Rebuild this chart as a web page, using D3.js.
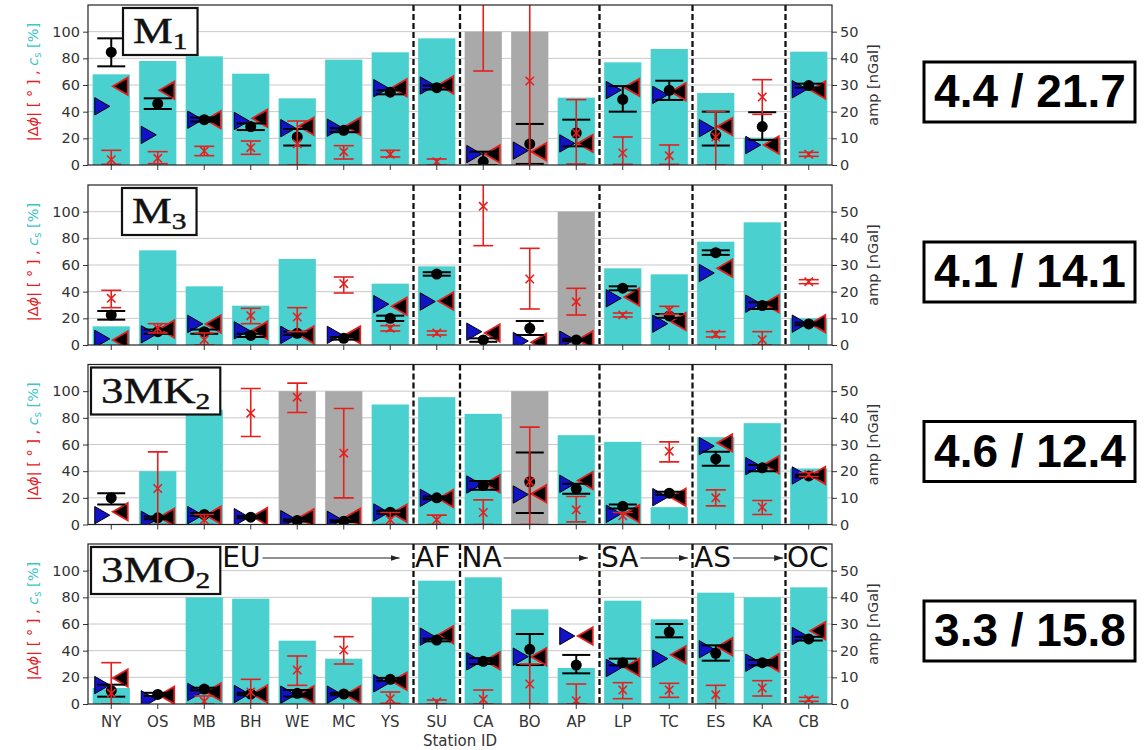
<!DOCTYPE html>
<html>
<head>
<meta charset="utf-8">
<script src="https://cdn.jsdelivr.net/npm/d3@7"></script>
<style>
  body { margin: 0; background: #fff; }
  svg { display: block; }
</style>
</head>
<body>
<div class="chart"></div>
<script>
// Stations and continent groups
const stations = ["NY", "OS", "MB", "BH", "WE", "MC", "YS", "SU", "CA", "BO", "AP", "LP", "TC", "ES", "KA", "CB"]
const regionNames = ["EU", "AF", "NA", "SA", "AS", "OC"]
const regionSizes = [7, 1, 3, 2, 2, 1]
// arrow tip of each region label, in station index units (null = no arrow)
const regionArrowEnd = [6.2, null, 10.25, 12.4, 14.45, null]

const titleBase = ["M", "M", "3MK", "3MO"]
const titleSub = ["1", "3", "2", "2"]
const scoreLabels = ["4.4 / 21.7", "4.1 / 14.1", "4.6 / 12.4", "3.3 / 15.8"]

// M1
const m1Cs = [68, 78, 81.5, 68.5, 50, 79, 84.5, 95, 100, 100, 50.5, 77, 87, 54, 20.5, 85]
const m1Masked = [0, 0, 0, 0, 0, 0, 0, 0, 1, 1, 0, 0, 0, 0, 0, 0]
const m1Amp = [42.3, 23, 17, 14.4, 10.5, 13, 27.3, 29, 1.3, 7.9, 12, 24.6, 28, 11.3, 14.4, 29.8]
const m1AmpLo = [37, 21, 16.3, 13.1, 7.3, 12.3, 26.5, 28.3, 0, 0.4, 7, 20, 24.4, 7.3, 9.4, 29]
const m1AmpHi = [47.5, 25, 17.8, 15.6, 13.5, 13.8, 28, 29.8, 5, 15.4, 17, 29.6, 31.6, 20, 19.8, 30.5]
const m1TriL = [22, 11.3, 17, 16.5, 13.8, 14, 28.8, 29.8, 4.1, 5.4, 8.1, 28.1, 26.3, 13.8, 7.5, 28.4]
const m1TriR = [29.5, 28, 17, 17.5, 14.5, 14.5, 29, 30, 4.1, 5, 8.1, 29.1, 27.5, 14.4, 7.5, 28.1]
const m1Phase = [4, 5, 10.5, 13, 16, 10, 8, 2.5, 135, 63, 24, 9, 7, 21, 51, 8]
const m1PhaseLo = [0.5, 1, 7, 8, 0, 4.5, 6, 0, 70.5, 0, 0.75, 0.5, 0.5, 0, 38, 6.5]
const m1PhaseHi = [11, 10, 14, 18, 33, 14.5, 11, 4.5, 200, 130, 49, 21, 15, 40, 64, 9.5]

// M3
const m3Cs = [14, 71, 44, 29.5, 64.5, 0, 46, 59, 0, 0, 100, 57.5, 53, 77.5, 92, 20]
const m3Masked = [0, 0, 0, 0, 0, 0, 0, 0, 0, 0, 1, 0, 0, 0, 0, 0]
const m3Amp = [11.25, 5, 5, 3.6, 4.4, 2.5, 10, 26.6, 1.9, 6.25, 1.9, 21.3, 10.9, 34.6, 14.8, 7.9]
const m3AmpLo = [9.5, 4.2, 4.2, 3, 3.8, 2, 9, 26, 1.2, 3.75, 1.5, 20.5, 10.2, 33.8, 13.5, 7.4]
const m3AmpHi = [12.75, 5.8, 5.8, 4.2, 5, 3, 11, 27.3, 2.5, 9, 2.3, 22, 11.6, 35.5, 16, 8.4]
const m3TriL = [2.3, 4, 7.9, 5.5, 3.8, 3.8, 15.3, 16.3, 5, 1.5, 2, 17.5, 8, 27, 15.5, 8]
const m3TriR = [1.9, 6, 7.9, 5.5, 3.8, 3.8, 14.5, 16.5, 4.5, 1, 2, 18, 8.8, 28.8, 15.5, 8]
const m3Phase = [35, 12.5, 4, 22, 21, 46, 12.5, 9, 104, 49.5, 32.5, 22.5, 26, 8, 4, 47.5]
const m3PhaseLo = [28, 9, 0, 16, 10, 39, 10.5, 7.5, 74.5, 27, 22.5, 21, 23, 6, 0, 46]
const m3PhaseHi = [41, 16, 9, 27.5, 28, 51, 14.5, 10.5, 140, 72.5, 42.5, 24, 29, 10, 10, 49]

// 3MK2
const mk3Cs = [0, 40, 86, 0, 100, 100, 90, 95.5, 83, 100, 67, 62, 13, 65.5, 76, 42]
const mk3Masked = [0, 0, 0, 0, 1, 1, 0, 0, 0, 1, 0, 0, 0, 0, 0, 0]
const mk3Amp = [10, 2.5, 3.75, 2.75, 1.5, 1.25, 4.6, 10, 14.6, 16, 13.4, 6.8, 11.75, 24.6, 21.25, 18.2]
const mk3AmpLo = [7.5, 2, 3.2, 2.3, 1.1, 0.9, 4, 9.5, 13, 4.3, 11.5, 6, 11.2, 22, 20, 17.7]
const mk3AmpHi = [11.75, 3, 4.3, 3.2, 1.9, 1.6, 5.2, 10.5, 16.3, 27, 15.3, 7.5, 12.3, 27.3, 22.3, 18.7]
const mk3TriL = [3.5, 1.75, 3.5, 2.75, 2, 1.75, 4.5, 10, 15, 11.25, 15.25, 4, 10.25, 29.4, 21.9, 18.4]
const mk3TriR = [4.75, 2.75, 3.5, 3, 2.5, 2.75, 4.25, 9.75, 15.25, 11.5, 16.5, 4, 10.25, 30.6, 22.4, 18.4]
const mk3Phase = [null, 27, 3.5, 83.5, 95.5, 53.5, 3.5, 3.5, 9, 32, 11, 6.5, 55, 20, 13, 37.5]
const mk3PhaseLo = [null, 0, 0, 66, 84, 20, 0, 0, 0, 0, 2, 0, 47, 14, 7.5, 36]
const mk3PhaseHi = [null, 54.5, 7.5, 102, 106, 87, 9, 7, 18.5, 73, 21, 9, 62, 26, 18, 39]

// 3MO2
const mo3Cs = [12, 0, 80, 79, 47.5, 34, 80, 92.5, 95, 71, 27, 77.5, 63.5, 83.5, 80, 87.5]
const mo3Masked = [0, 0, 0, 0, 0, 0, 0, 0, 0, 0, 0, 0, 0, 0, 0, 0]
const mo3Amp = [5, 3.6, 5.6, 3.75, 4, 3.75, 9.25, 24, 16, 20.5, 14.6, 15.5, 27, 19, 15.5, 24.4]
const mo3AmpLo = [2.75, 3, 5.1, 3.3, 2.8, 3.3, 8.7, 23.5, 15, 14.6, 11.5, 14.5, 25, 16.25, 14.5, 23.8]
const mo3AmpHi = [7.25, 4.2, 6.1, 4.2, 5.25, 4.2, 9.8, 24.5, 17.2, 26.25, 18.4, 17, 30, 22, 16.5, 25.2]
const mo3TriL = [7.1, 1.75, 4.5, 3.75, 3.5, 3.5, 7.75, 25.25, 16, 17.75, 25.5, 13.5, 17, 20.5, 15.5, 25.5]
const mo3TriR = [9.75, 3.3, 4.5, 3.75, 3.5, 3.5, 8.5, 26, 16.25, 17.75, 25.5, 13.75, 18.5, 21.5, 15.5, 27.5]
const mo3Phase = [8, null, 2, 9, 25.5, 40.5, 4, 1.5, 3.5, 15, 2.5, 10.5, 10.5, 7, 12, 3.5]
const mo3PhaseLo = [0, null, 0, 0, 14, 30, 0.5, 0, 0, 0, 0, 4, 5, 0, 6, 2]
const mo3PhaseHi = [31, null, 6, 18.5, 36, 50.5, 9, 3, 10.5, 30, 15, 16, 15.5, 14, 17.5, 5]

const panels = [
    [m1Cs, m1Masked, m1Amp, m1AmpLo, m1AmpHi, m1TriL, m1TriR, m1Phase, m1PhaseLo, m1PhaseHi],
    [m3Cs, m3Masked, m3Amp, m3AmpLo, m3AmpHi, m3TriL, m3TriR, m3Phase, m3PhaseLo, m3PhaseHi],
    [mk3Cs, mk3Masked, mk3Amp, mk3AmpLo, mk3AmpHi, mk3TriL, mk3TriR, mk3Phase, mk3PhaseLo, mk3PhaseHi],
    [mo3Cs, mo3Masked, mo3Amp, mo3AmpLo, mo3AmpHi, mo3TriL, mo3TriR, mo3Phase, mo3PhaseLo, mo3PhaseHi]
].map(cols => stations.map((s, j) => ({
    station: s,
    cs: cols[0][j], masked: cols[1][j],
    amp: cols[2][j], ampLo: cols[3][j], ampHi: cols[4][j],
    triL: cols[5][j], triR: cols[6][j],
    phase: cols[7][j], phaseLo: cols[8][j], phaseHi: cols[9][j]
})))

// Layout
const width = 1144
const height = 750
const plotLeft = 88
const plotRight = 832
const panelHeight = 160
const panelTops = [5, 185, 364.5, 544]
const titleTextX = [133, 132, 101, 101]

const cyan = "#4bd0d0"
const grey = "#a9a9a9"
const red = "#e3201e"
const textColor = "#333"

const svg = d3.select(".chart").append("svg")
    .attr("width", width)
    .attr("height", height)
    .attr("viewBox", [0, 0, width, height])
    .style("font-family", "'DejaVu Sans', sans-serif")

const defs = svg.append("defs")
defs.append("marker")
    .attr("id", "arrow")
    .attr("markerUnits", "userSpaceOnUse")
    .attr("markerWidth", 9).attr("markerHeight", 6)
    .attr("refX", 9).attr("refY", 3)
    .attr("orient", "auto")
    .append("path")
    .attr("d", "M0,0L9,3L0,6Z")
    .attr("fill", "#222")

const x = d3.scaleBand(stations, [plotLeft, plotRight]).paddingInner(0.2).paddingOuter(0.1)
const step = x.step()
const cx = s => x(s) + x.bandwidth() / 2
const xIndex = i => cx(stations[0]) + i * step

// boundaries between continent groups
const boundaryIdx = d3.cumsum(regionSizes).slice(0, -1)
const boundaryX = k => x(stations[k]) - (step - x.bandwidth()) / 2

const triSym = d3.symbol(d3.symbolTriangle, 130)
const xSym = d3.symbol(d3.symbolX, 48)

panels.forEach((rows, i) => {
    const top = panelTops[i]
    const bottom = top + panelHeight
    const yL = d3.scaleLinear([0, 120], [bottom, top])
    const yR = d3.scaleLinear([0, 60], [bottom, top])
    const g = svg.append("g")

    defs.append("clipPath").attr("id", `clip-${i}`)
        .append("rect")
        .attr("x", plotLeft).attr("y", top)
        .attr("width", plotRight - plotLeft).attr("height", panelHeight)

    // grid
    g.append("g")
        .selectAll("line")
        .data([20, 40, 60, 80, 100])
        .join("line")
        .attr("x1", plotLeft).attr("x2", plotRight)
        .attr("y1", d => yL(d)).attr("y2", d => yL(d))
        .attr("stroke", "#c8c8c8")
        .attr("stroke-width", 1)

    const plot = g.append("g").attr("clip-path", `url(#clip-${i})`)

    // c_s bars
    plot.append("g")
        .selectAll("rect")
        .data(rows.filter(d => d.cs > 0))
        .join("rect")
        .attr("x", d => x(d.station))
        .attr("width", x.bandwidth())
        .attr("y", d => yL(d.cs))
        .attr("height", d => yL(0) - yL(d.cs))
        .attr("fill", d => d.masked ? grey : cyan)

    // continent separators
    plot.append("g")
        .selectAll("line")
        .data(boundaryIdx)
        .join("line")
        .attr("x1", boundaryX).attr("x2", boundaryX)
        .attr("y1", top).attr("y2", bottom)
        .attr("stroke", "#111")
        .attr("stroke-width", 2.3)
        .attr("stroke-dasharray", "6,3")

    // model amplitudes as bow-tie triangles
    plot.append("g")
        .selectAll("path")
        .data(rows)
        .join("path")
        .attr("d", triSym)
        .attr("transform", d => `translate(${cx(d.station) - 11.5},${yR(d.triL)}) rotate(90)`)
        .attr("fill", "#1212c8")
        .attr("stroke", "#000")
        .attr("stroke-width", 1)
    plot.append("g")
        .selectAll("path")
        .data(rows)
        .join("path")
        .attr("d", triSym)
        .attr("transform", d => `translate(${cx(d.station) + 11.5},${yR(d.triR)}) rotate(-90)`)
        .attr("fill", "#000")
        .attr("stroke", red)
        .attr("stroke-width", 1.8)

    // observed amplitude with error bars
    const obs = plot.append("g").attr("stroke", "#000").attr("stroke-width", 2)
    obs.selectAll(".v").data(rows).join("line")
        .attr("x1", d => cx(d.station)).attr("x2", d => cx(d.station))
        .attr("y1", d => yR(d.ampLo)).attr("y2", d => yR(d.ampHi))
    obs.selectAll(".lo").data(rows).join("line")
        .attr("x1", d => cx(d.station) - 14).attr("x2", d => cx(d.station) + 14)
        .attr("y1", d => yR(d.ampLo)).attr("y2", d => yR(d.ampLo))
    obs.selectAll(".hi").data(rows).join("line")
        .attr("x1", d => cx(d.station) - 14).attr("x2", d => cx(d.station) + 14)
        .attr("y1", d => yR(d.ampHi)).attr("y2", d => yR(d.ampHi))
    plot.append("g")
        .selectAll("circle")
        .data(rows)
        .join("circle")
        .attr("cx", d => cx(d.station))
        .attr("cy", d => yR(d.amp))
        .attr("r", 5.5)
        .attr("fill", "#000")

    // phase difference with error bars
    const ph = rows.filter(d => d.phase != null)
    const phg = plot.append("g").attr("stroke", red).attr("stroke-width", 1.6).attr("fill", "none")
    phg.selectAll(".v").data(ph).join("line")
        .attr("x1", d => cx(d.station)).attr("x2", d => cx(d.station))
        .attr("y1", d => yL(d.phaseLo)).attr("y2", d => yL(d.phaseHi))
    phg.selectAll(".lo").data(ph).join("line")
        .attr("x1", d => cx(d.station) - 10).attr("x2", d => cx(d.station) + 10)
        .attr("y1", d => yL(d.phaseLo)).attr("y2", d => yL(d.phaseLo))
    phg.selectAll(".hi").data(ph).join("line")
        .attr("x1", d => cx(d.station) - 10).attr("x2", d => cx(d.station) + 10)
        .attr("y1", d => yL(d.phaseHi)).attr("y2", d => yL(d.phaseHi))
    phg.selectAll("path").data(ph).join("path")
        .attr("d", xSym)
        .attr("transform", d => `translate(${cx(d.station)},${yL(d.phase)})`)

    // axes
    const styleAxis = sel => {
        sel.select(".domain").remove()
        sel.selectAll(".tick line").attr("stroke", textColor)
        sel.selectAll(".tick text").attr("fill", textColor)
            .style("font-family", "'DejaVu Sans', sans-serif")
    }
    g.append("g")
        .attr("transform", `translate(${plotLeft},0)`)
        .call(d3.axisLeft(yL).tickValues([0, 20, 40, 60, 80, 100]).tickSize(5).tickPadding(3))
        .call(styleAxis)
        .selectAll(".tick text").style("font-size", "14.5px")
    g.append("g")
        .attr("transform", `translate(${plotRight},0)`)
        .call(d3.axisRight(yR).tickValues([0, 10, 20, 30, 40, 50]).tickSize(5).tickPadding(3))
        .call(styleAxis)
        .selectAll(".tick text").style("font-size", "14.5px")
    const xAxis = d3.axisBottom(x).tickSize(5).tickPadding(7)
    if (i < panels.length - 1) xAxis.tickFormat("")
    g.append("g")
        .attr("transform", `translate(0,${bottom})`)
        .call(xAxis)
        .call(styleAxis)
        .selectAll(".tick text").style("font-size", "15px")

    // frame
    g.append("rect")
        .attr("x", plotLeft).attr("y", top)
        .attr("width", plotRight - plotLeft).attr("height", panelHeight)
        .attr("fill", "none")
        .attr("stroke", "#222")
        .attr("stroke-width", 1.2)

    // left label
    const mid = (top + bottom) / 2
    const yl = g.append("text")
        .attr("transform", `translate(38,${mid - 3}) rotate(-90)`)
        .attr("text-anchor", "middle")
        .style("font-size", "14.5px")
    yl.append("tspan").attr("fill", red).text("|Δ")
    yl.append("tspan").attr("fill", red).style("font-style", "italic").text("ϕ")
    yl.append("tspan").attr("fill", red).text("| [ ° ] , ")
    yl.append("tspan").attr("fill", "#3cc6c8").style("font-style", "italic").text("c")
    yl.append("tspan").attr("fill", "#3cc6c8").attr("dy", 3).style("font-size", "10px").text("s")
    yl.append("tspan").attr("fill", "#3cc6c8").attr("dy", -3).text(" [%]")

    // right label
    g.append("text")
        .attr("transform", `translate(878,${mid}) rotate(-90)`)
        .attr("text-anchor", "middle")
        .attr("fill", textColor)
        .style("font-size", "14.5px")
        .text("amp [nGal]")

    // constituent title box
    const tg = g.append("g")
    const tText = tg.append("text")
        .attr("transform", `translate(${titleTextX[i]},${top + 38}) scale(1.28,1)`)
        .style("font-family", "'Liberation Serif', 'DejaVu Serif', serif")
        .style("font-size", "35px")
        .attr("fill", "#111")
        .attr("stroke", "#111")
        .attr("stroke-width", 0.4)
    tText.append("tspan").text(titleBase[i])
    tText.append("tspan").attr("dy", 6).style("font-size", "23px").text(titleSub[i])
    const bb = tText.node().getBBox()
    tg.insert("rect", "text")
        .attr("x", titleTextX[i] + bb.x * 1.28 - 10)
        .attr("y", top + 3)
        .attr("width", bb.width * 1.28 + 20)
        .attr("height", 47)
        .attr("fill", "#fff")
        .attr("stroke", "#111")
        .attr("stroke-width", 2.2)

    // score box on the right
    const sc = mid + 7
    g.append("rect")
        .attr("x", 924).attr("y", sc - 30)
        .attr("width", 211).attr("height", 60)
        .attr("fill", "#fff")
        .attr("stroke", "#000")
        .attr("stroke-width", 3)
    g.append("text")
        .attr("x", 1030).attr("y", sc + 15)
        .attr("text-anchor", "middle")
        .style("font-family", "'Liberation Sans', Arial, sans-serif")
        .style("font-weight", "bold")
        .style("font-size", "46px")
        .attr("fill", "#000")
        .text(scoreLabels[i])

    // continent labels in the last panel
    if (i === panels.length - 1) {
        const starts = [0, ...boundaryIdx]
        const titleRight = titleTextX[i] + (bb.x + bb.width) * 1.28 + 10
        regionNames.forEach((name, r) => {
            const lx = r === 0 ? titleRight + 2 : boundaryX(starts[r]) + 1.5
            const t = g.append("text")
                .attr("x", lx).attr("y", top + 23)
                .attr("fill", "#111")
                .style("font-size", "28px")
                .text(name)
            if (regionArrowEnd[r] != null) {
                const x0 = lx + t.node().getComputedTextLength() + 2
                g.append("line")
                    .attr("x1", x0).attr("x2", xIndex(regionArrowEnd[r]))
                    .attr("y1", top + 14).attr("y2", top + 14)
                    .attr("stroke", "#222")
                    .attr("stroke-width", 1.1)
                    .attr("marker-end", "url(#arrow)")
            }
        })
    }
})

svg.append("text")
    .attr("x", (plotLeft + plotRight) / 2)
    .attr("y", 746)
    .attr("text-anchor", "middle")
    .attr("fill", textColor)
    .style("font-size", "15px")
    .text("Station ID")
</script>
</body>
</html>
